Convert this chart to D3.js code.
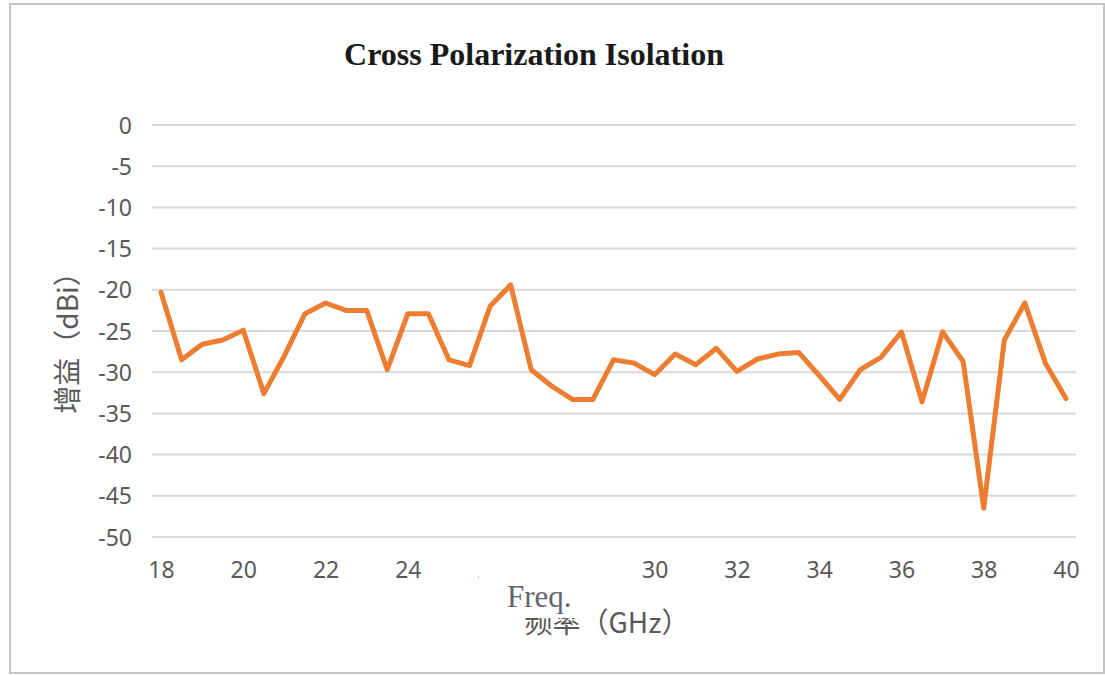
<!DOCTYPE html>
<html>
<head>
<meta charset="utf-8">
<script src="https://cdn.jsdelivr.net/npm/d3@7"></script>
<style>
  html, body { margin: 0; padding: 0; background: #fff; }
  svg { display: block; }
</style>
</head>
<body>
<svg id="chart" width="1105" height="675"></svg>
<script>
// ---- data ----
const freqGHz = [18, 18.5, 19, 19.5, 20, 20.5, 21, 21.5, 22, 22.5, 23, 23.5, 24, 24.5, 25, 25.5,
  26, 26.5, 27, 27.5, 28, 28.5, 29, 29.5, 30, 30.5, 31, 31.5, 32, 32.5, 33, 33.5,
  34, 34.5, 35, 35.5, 36, 36.5, 37, 37.5, 38, 38.5, 39, 39.5, 40];
const isolationDbi = [-20.3, -28.5, -26.6, -26.1, -24.9, -32.6, -28.0, -22.9, -21.6, -22.5, -22.5, -29.7,
  -22.9, -22.9, -28.5, -29.2, -22.0, -19.4, -29.7, -31.7, -33.3, -33.3, -28.5, -28.9,
  -30.3, -27.8, -29.1, -27.1, -29.9, -28.4, -27.8, -27.6, -30.4, -33.3, -29.7, -28.2,
  -25.1, -33.6, -25.1, -28.7, -46.5, -26.1, -21.6, -28.9, -33.2];
const xTicks = [18, 20, 22, 24, 26, 28, 30, 32, 34, 36, 38, 40];
const yTicks = [0, -5, -10, -15, -20, -25, -30, -35, -40, -45, -50];
const titleText = "Cross Polarization Isolation";
const xTitle = "频率（GHz）";
const xTitleOverlay = "Freq.";
const yTitle = "增益（dBi）";

// ---- chart ----
const svg = d3.select("#chart");
const x = d3.scaleLinear().domain([18, 40]).range([161, 1066]);
const y = d3.scaleLinear().domain([-50, 0]).range([537, 125]);
const gridX0 = x(18) - 9, gridX1 = x(40) + 10;
const fmt = d => String(d);

// frame
svg.append("rect")
  .attr("x", 10).attr("y", 4).attr("width", 1094).attr("height", 669)
  .attr("fill", "#fff").attr("stroke", "#c4c4c4").attr("stroke-width", 2);

// gridlines
svg.append("g").selectAll("line").data(yTicks).join("line")
  .attr("x1", gridX0).attr("x2", gridX1)
  .attr("y1", d => y(d)).attr("y2", d => y(d))
  .attr("stroke", "#d9d9d9").attr("stroke-width", 2);

// y axis labels
const yAxis = svg.append("g")
  .attr("transform", `translate(${gridX0 - 20},0)`)
  .call(d3.axisLeft(y).tickValues(yTicks).tickSize(0).tickPadding(0).tickFormat(fmt));
yAxis.select(".domain").remove();
yAxis.selectAll("text")
  .attr("font-family", "'Noto Sans', sans-serif").attr("font-size", 23)
  .attr("fill", "#595959").attr("dy", "0.35em");

// x axis labels
const xAxis = svg.append("g")
  .attr("transform", `translate(0,${y(-50) + 25})`)
  .call(d3.axisBottom(x).tickValues(xTicks).tickSize(0).tickPadding(0).tickFormat(fmt));
xAxis.select(".domain").remove();
xAxis.selectAll("text")
  .attr("font-family", "'Noto Sans', sans-serif").attr("font-size", 23)
  .attr("fill", "#595959");

// line
const line = d3.line().x((d, i) => x(freqGHz[i])).y(d => y(d));
svg.append("path")
  .datum(isolationDbi)
  .attr("d", line)
  .attr("fill", "none")
  .attr("stroke", "#ED7D31")
  .attr("stroke-width", 5)
  .attr("stroke-linejoin", "round")
  .attr("stroke-linecap", "round");

// title
svg.append("text")
  .attr("x", 534).attr("y", 65)
  .attr("text-anchor", "middle")
  .attr("font-family", "'Liberation Serif', 'Times New Roman', serif")
  .attr("font-weight", "bold").attr("font-size", 32)
  .attr("fill", "#1a1a1a")
  .text(titleText);

// y title
svg.append("text")
  .attr("transform", "translate(78,336) rotate(-90)")
  .attr("text-anchor", "middle")
  .attr("font-family", "'Noto Sans CJK SC', sans-serif")
  .attr("font-size", 28)
  .attr("fill", "#595959")
  .text(yTitle);

// x title
svg.append("text")
  .attr("x", 607).attr("y", 633)
  .attr("text-anchor", "middle")
  .attr("font-family", "'Noto Sans CJK SC', sans-serif")
  .attr("font-size", 28)
  .attr("fill", "#595959")
  .text(xTitle);

// pasted-over patch with "Freq." label
svg.append("rect")
  .attr("x", 479).attr("y", 552).attr("width", 116).attr("height", 66)
  .attr("fill", "#fff");
svg.append("text")
  .attr("x", 507).attr("y", 607)
  .attr("font-family", "'Liberation Serif', 'Times New Roman', serif")
  .attr("font-size", 31)
  .attr("fill", "#62656d")
  .text(xTitleOverlay);
</script>
</body>
</html>
